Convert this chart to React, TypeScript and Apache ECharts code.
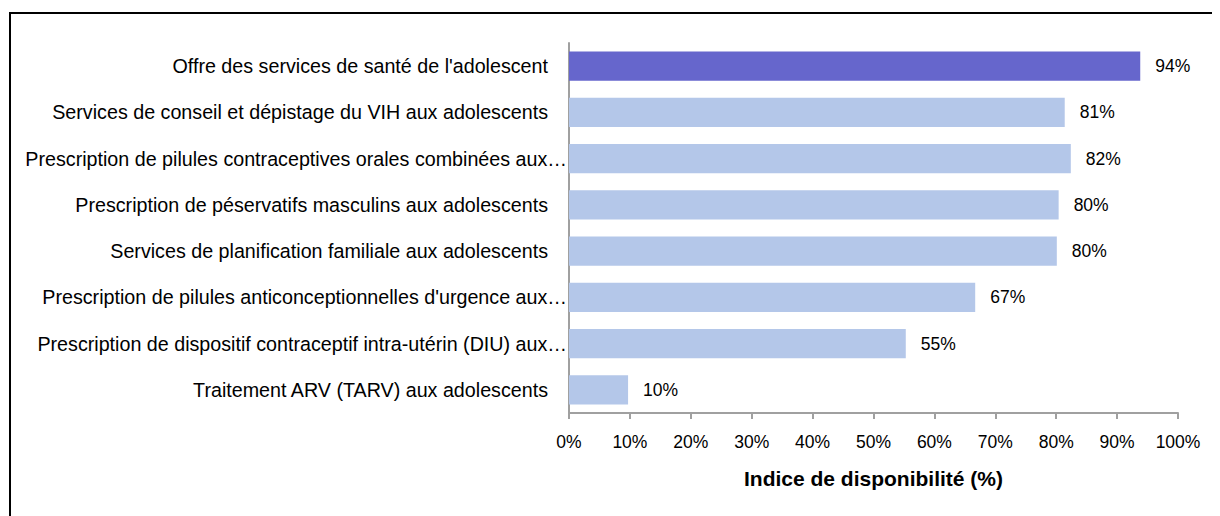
import React, { useEffect, useRef } from "react";
import * as echarts from "echarts";

const categories = [
  "Offre des services de santé de l'adolescent",
  "Services de conseil et dépistage du VIH aux adolescents",
  "Prescription de pilules contraceptives orales combinées aux…",
  "Prescription de péservatifs masculins aux adolescents",
  "Services de planification familiale aux adolescents",
  "Prescription de pilules anticonceptionnelles d'urgence aux…",
  "Prescription de dispositif contraceptif intra-utérin (DIU) aux…",
  "Traitement ARV (TARV) aux adolescents",
];
const values = [93.8, 81.4, 82.4, 80.4, 80.1, 66.7, 55.3, 9.7];
const highlightIndex = 0;
const xTicks = [0, 10, 20, 30, 40, 50, 60, 70, 80, 90, 100];
const axisName = "Indice de disponibilité (%)";

const FONT = "'Liberation Sans', Arial, sans-serif";

export default function App() {
  const ref = useRef<HTMLDivElement>(null);
  useEffect(() => {
    if (!ref.current) return;
    const chart = echarts.init(ref.current, undefined, { renderer: "svg" });
    const cats = [...categories].reverse();
    const vals = [...values].reverse();
    const hi = categories.length - 1 - highlightIndex;
    chart.setOption({
      animation: false,
      textStyle: { fontFamily: FONT },
      graphic: [
        {
          type: "rect",
          shape: { x: 2, y: 5, width: 1400, height: 700 },
          style: { fill: "none", stroke: "#000", lineWidth: 2 },
          silent: true,
        },
      ],
      grid: { left: 561, right: 42, top: 35, bottom: 103 },
      xAxis: {
        type: "value",
        min: xTicks[0],
        max: xTicks[xTicks.length - 1],
        interval: 10,
        name: axisName,
        nameLocation: "middle",
        nameGap: 55,
        nameTextStyle: { fontFamily: FONT, fontSize: 21, fontWeight: "bold", color: "#000" },
        axisLine: { show: true, lineStyle: { color: "#a0a0a0", width: 2 } },
        axisTick: { show: true, length: 6, lineStyle: { color: "#a0a0a0", width: 2 } },
        axisLabel: {
          formatter: (v: number) => v + "%",
          fontFamily: FONT,
          fontSize: 17.5,
          color: "#000",
          margin: 20,
        },
        splitLine: { show: false },
      },
      yAxis: {
        type: "category",
        data: cats,
        axisLine: { show: true, lineStyle: { color: "#a0a0a0", width: 2 } },
        axisTick: { show: false },
        axisLabel: {
          margin: 2,
          formatter: (v: string) => (v.endsWith("…") ? "{t|" + v + "}" : "{n|" + v + "}"),
          rich: {
            t: { fontFamily: FONT, fontSize: 19.7, color: "#000" },
            n: { fontFamily: FONT, fontSize: 19.7, color: "#000", padding: [0, 19, 0, 0] },
          },
        },
      },
      series: [
        {
          type: "bar",
          data: vals.map((v, i) => ({
            value: v,
            itemStyle: { color: i === hi ? "#6666cc" : "#b4c7e9" },
          })),
          barWidth: "63%",
          label: {
            show: true,
            position: "right",
            distance: 15,
            formatter: (p: any) => Math.round(p.value) + "%",
            fontFamily: FONT,
            fontSize: 17.5,
            color: "#000",
          },
        },
      ],
    });
    return () => chart.dispose();
  }, []);
  return <div ref={ref} style={{ width: 1212, height: 508 }} />;
}
